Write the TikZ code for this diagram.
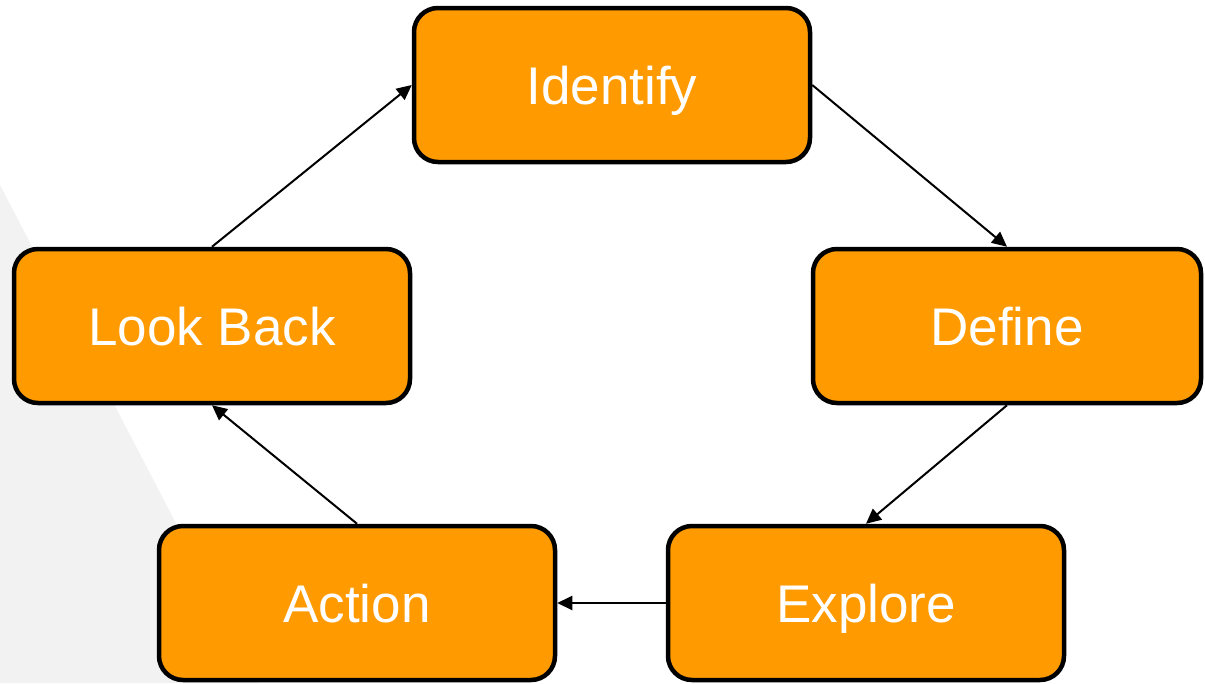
\documentclass[tikz,border=0pt]{standalone}
\usepackage{fontspec}
\setmainfont{Liberation Sans}
\usetikzlibrary{arrows.meta}
\definecolor{stageorange}{HTML}{FF9B00}
\definecolor{panelgray}{HTML}{F2F2F2}
\begin{document}
\begin{tikzpicture}[x=1pt,y=-1pt,
  stagebox/.style={draw=black, line width=4.5pt, fill=stageorange,
    rounded corners=24pt, minimum width=396pt, minimum height=154pt,
    inner sep=0pt, text=white, text height=38pt, text depth=0pt,
    font=\fontsize{53}{60}\selectfont},
  flow/.style={draw=black, line width=2pt,
    -{Triangle[length=15pt,width=14pt]}}]
  % canvas and the light panel on the left
  \fill[white] (0,0) rectangle (1205,683);
  \useasboundingbox (0,0) rectangle (1205,683);
  \fill[panelgray] (0,185) -- (259,683) -- (0,683) -- cycle;

  % stages of the cycle
  \node[stagebox] (identify) at (612,85) {Identify};
  \node[stagebox, minimum width=388pt] (define) at (1007,326) {Define};
  \node[stagebox] (explore) at (866,603) {Explore};
  \node[stagebox] (action) at (357,603) {Action};
  \node[stagebox] (lookback) at (212,326) {Look Back};

  % connectors
  \draw[flow] (identify.east) -- (define.north);
  \draw[flow] (define.south) -- (explore.north);
  \draw[flow] (explore.west) -- (action.east);
  \draw[flow] (action.north) -- (lookback.south);
  \draw[flow] (lookback.north) -- (identify.west);
\end{tikzpicture}
\end{document}
